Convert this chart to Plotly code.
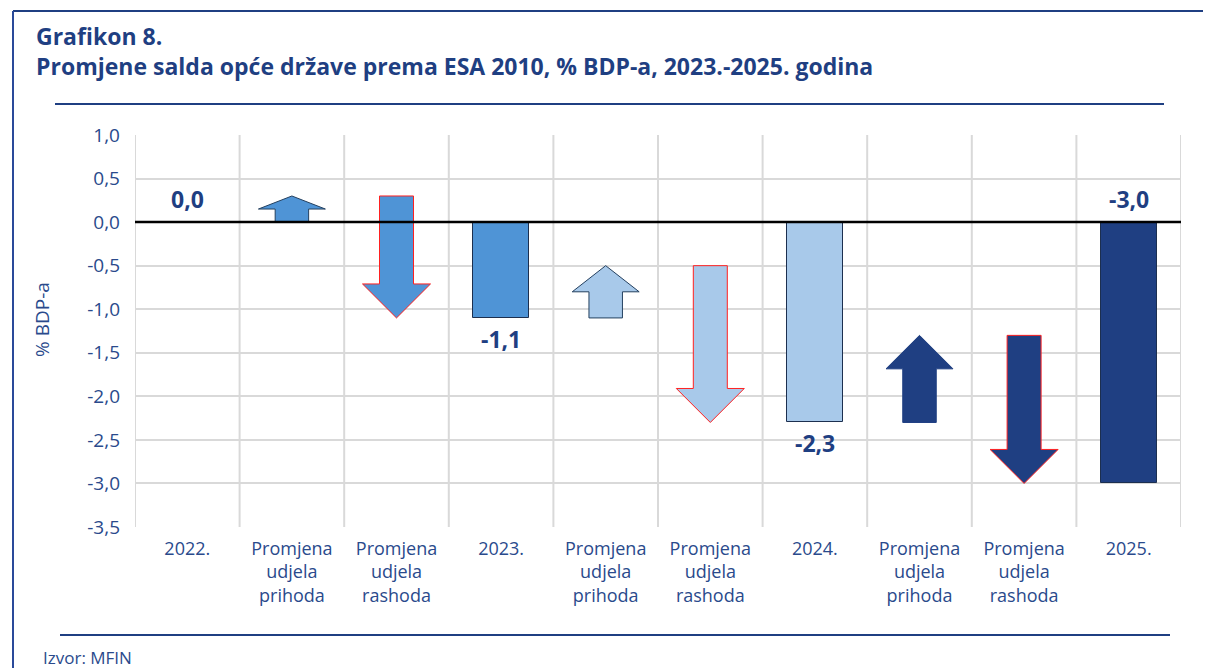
import plotly.graph_objects as go

# ---------------- data ----------------
categories = ["2022.", "Promjena<br>udjela<br>prihoda", "Promjena<br>udjela<br>rashoda",
              "2023.", "Promjena<br>udjela<br>prihoda", "Promjena<br>udjela<br>rashoda",
              "2024.", "Promjena<br>udjela<br>prihoda", "Promjena<br>udjela<br>rashoda",
              "2025."]
years = ["2022.", "2023.", "2024.", "2025."]
year_pos = [0, 3, 6, 9]
balance = [0.0, -1.1, -2.3, -3.0]          # saldo opće države, % BDP-a
revenue_change = [0.3, 0.6, 1.0]           # promjena udjela prihoda
expenditure_change = [-1.4, -1.8, -1.7]    # promjena udjela rashoda
y_ticks = [1.0, 0.5, 0.0, -0.5, -1.0, -1.5, -2.0, -2.5, -3.0, -3.5]
y_ticktext = [f"{v:.1f}".replace(".", ",") for v in y_ticks]

# ---------------- styles ----------------
OFF = 8                                     # page body margin
W, H = 1211 - OFF, 668 - OFF
PL, PR, PT, PB = 135 - OFF, 1181 - OFF, 135 - OFF, 527 - OFF   # plot area in px
period_colors = ["#4f94d6", "#a8c9ea", "#1f3f82"]
bar_colors = ["#4f94d6", "#4f94d6", "#a8c9ea", "#1f3f82"]
up_outline = ["#24405f", "#24405f", "#1f3f82"]
TXT = "#2a4a8c"
TITLE = "#1f3f82"
FONT = "Open Sans"

ymin, ymax = -3.5, 1.0
xmin, xmax = -0.5, len(categories) - 0.5
px_per_x = (PR - PL) / (xmax - xmin)
px_per_y = (PB - PT) / (ymax - ymin)


def px(x):
    return (x - OFF - PL) / (PR - PL)


def py(y):
    return (PB - (y - OFF)) / (PB - PT)


fig = go.Figure()

fig.add_trace(go.Bar(
    x=year_pos, y=balance, base=0, width=0.535,
    marker=dict(color=bar_colors, line=dict(color="#1c2f4f", width=1)),
    showlegend=False, hoverinfo="skip"))


def arrow(c, s, e, width, fill, outline):
    w_px = width * px_per_x
    h_px = abs(e - s) * px_per_y
    head = 0.5 * min(w_px, h_px) / px_per_y
    d = 1 if e > s else -1
    hb = e - d * head
    xs = [c - width / 4, c - width / 4, c - width / 2, c, c + width / 2, c + width / 4, c + width / 4, c - width / 4]
    ys = [s, hb, hb, e, hb, hb, s, s]
    fig.add_trace(go.Scatter(x=xs, y=ys, mode="lines", fill="toself", fillcolor=fill,
                             line=dict(color=outline, width=1), showlegend=False,
                             hoverinfo="skip"))


for i in range(3):
    start = balance[i]
    mid = start + revenue_change[i]
    end = mid + expenditure_change[i]
    arrow(3 * i + 1, start, mid, 0.64, period_colors[i], up_outline[i])
    arrow(3 * i + 2, mid, end, 0.65, period_colors[i], "#ff2020")

# zero line
fig.add_shape(type="line", xref="paper", yref="y", x0=0, x1=1, y0=0, y1=0,
              line=dict(color="black", width=2.5), layer="above")

# vertical gridlines at category boundaries
for k in range(len(categories) + 1):
    fig.add_shape(type="line", xref="x", yref="paper", x0=k - 0.5, x1=k - 0.5, y0=0, y1=1,
                  line=dict(color="#d9d9d9", width=2), layer="below")

# value labels
for xi, v in zip(year_pos, balance):
    txt = f"{v:.1f}".replace(".", ",")
    if v == 0 or xi == year_pos[-1]:
        fig.add_annotation(x=xi, y=0, text=f"<b>{txt}</b>", showarrow=False,
                           yanchor="bottom", yshift=5, font=dict(size=23, color=TITLE, family=FONT))
    else:
        fig.add_annotation(x=xi, y=v, text=f"<b>{txt}</b>", showarrow=False,
                           yanchor="top", yshift=-3, font=dict(size=23, color=TITLE, family=FONT))

# titles
fig.add_annotation(xref="paper", yref="paper", x=px(34), y=py(51), xanchor="left", yanchor="middle",
                   align="left",
                   text="<b>Grafikon 8.</b><br><b>Promjene salda opće države prema ESA 2010, % BDP-a, 2023.-2025. godina</b>",
                   showarrow=False, font=dict(size=23, color=TITLE, family=FONT))
fig.add_annotation(xref="paper", yref="paper", x=px(42), y=py(320), xanchor="center", yanchor="middle",
                   text="% BDP-a", textangle=-90, showarrow=False, font=dict(size=19, color=TXT, family=FONT))
fig.add_annotation(xref="paper", yref="paper", x=px(41), y=py(657), xanchor="left", yanchor="middle",
                   text="Izvor: MFIN", showarrow=False, font=dict(size=17, color=TXT, family=FONT))

# frame and separator lines
fig.add_shape(type="line", xref="paper", yref="paper", x0=px(13), x1=px(1215), y0=py(11), y1=py(11),
              line=dict(color="#1f3f82", width=2))
fig.add_shape(type="line", xref="paper", yref="paper", x0=px(13), x1=px(13), y0=py(11), y1=py(670),
              line=dict(color="#2a4a9a", width=2))
fig.add_shape(type="line", xref="paper", yref="paper", x0=px(55), x1=px(1164), y0=py(104), y1=py(104),
              line=dict(color="#1f3f82", width=2))
fig.add_shape(type="line", xref="paper", yref="paper", x0=px(60), x1=px(1170), y0=py(635), y1=py(635),
              line=dict(color="#1f3f82", width=2))

fig.update_layout(
    width=W, height=H,
    margin=dict(l=PL, r=W - PR, t=PT, b=H - PB),
    paper_bgcolor="white", plot_bgcolor="white",
    font=dict(family=FONT, color=TXT),
    xaxis=dict(range=[xmin, xmax], tickvals=list(range(len(categories))), ticktext=categories,
               showgrid=False, zeroline=False, tickfont=dict(size=18, color=TXT, family=FONT),
               ticks="", ticklabelstandoff=9, showline=False, fixedrange=True),
    yaxis=dict(range=[ymin, ymax], tickvals=y_ticks, ticktext=y_ticktext,
               showgrid=True, gridcolor="#d9d9d9", gridwidth=2, zeroline=False,
               tickfont=dict(size=19, color=TXT, family=FONT), ticks="", ticklabelstandoff=14,
               showline=False, fixedrange=True),
    bargap=0,
)

fig.write_html("out.html")
